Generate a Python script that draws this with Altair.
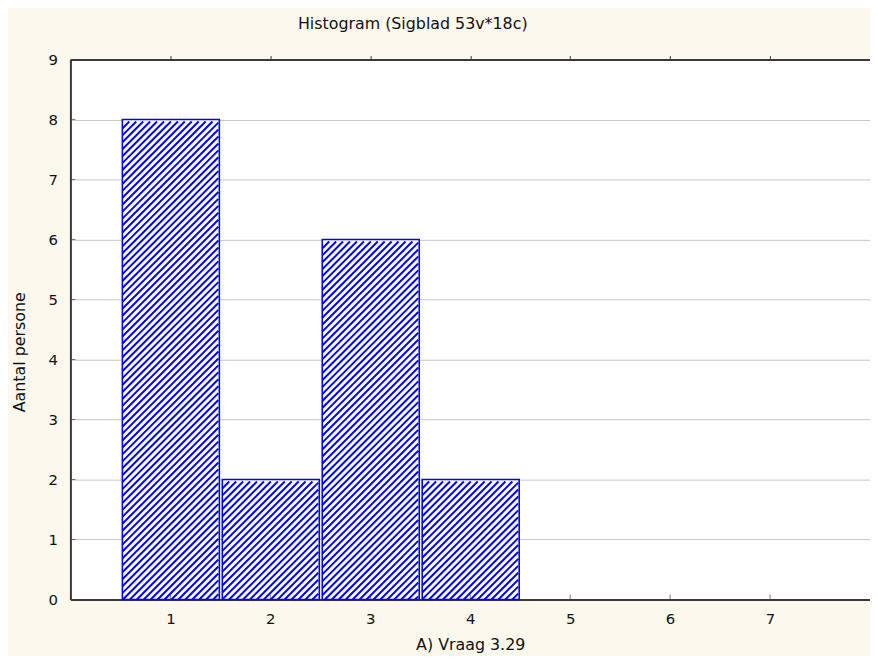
import altair as alt
import pandas as pd

# ---- data ----
values = [1, 2, 3, 4]
counts = [8, 2, 6, 2]
x_ticks = [1, 2, 3, 4, 5, 6, 7]
y_ticks = [0, 1, 2, 3, 4, 5, 6, 7, 8, 9]

title_text = "Histogram (Sigblad 53v*18c)"
x_title = "A) Vraag 3.29"
y_title = "Aantal persone"

# ---- layout / style ----
W, H = 807, 545
XMAX, YMAX = 8, 9
SX = W / XMAX
SY = H / YMAX
D = 7.0        # hatch spacing (px, horizontal)
INSET = 2.0    # hatch inset from bar edge (px)
BLUE = "#0000ff"
DARK = "#3a3a3a"
FONT = "DejaVu Sans"

bars_df = pd.DataFrame({"value": values, "count": counts})
ticks_x_df = pd.DataFrame({"t": x_ticks})
ticks_y_df = pd.DataFrame({"t": y_ticks})

xscale = alt.Scale(domain=[0, XMAX], nice=False, zero=False)
yscale = alt.Scale(domain=[0, YMAX], nice=False)

bars = alt.Chart(bars_df).transform_calculate(
    start="datum.value - 0.5",
    end="datum.value + 0.5",
).mark_bar(fill="white", stroke=BLUE, strokeWidth=1.6, binSpacing=3).encode(
    x=alt.X(
        "start:Q", bin="binned", scale=xscale,
        axis=alt.Axis(
            orient="bottom", values=x_ticks, format="d", title=x_title,
            tickSize=0, labelPadding=12, labelFontSize=15, labelFont=FONT,
            labelColor="#111", domainColor=DARK, domainWidth=2, grid=False,
            titleFont=FONT, titleFontSize=16, titleFontWeight="normal",
            titleColor="#111", titleY=45, titleBaseline="middle",
        ),
    ),
    x2="end:Q",
    y=alt.Y(
        "count:Q", scale=yscale,
        axis=alt.Axis(
            orient="left", values=y_ticks, format="d", title=y_title,
            tickSize=0, labelPadding=13, labelFontSize=15, labelFont=FONT,
            labelColor="#111", domainColor=DARK, domainWidth=2,
            grid=True, gridColor="#c4c4c4", gridWidth=1,
            titleFont=FONT, titleFontSize=16, titleFontWeight="normal",
            titleColor="#111", titleX=-51, titleY=295, titleAngle=-90,
            titleAlign="center", titleBaseline="middle",
        ),
    ),
)

hatch = alt.Chart(bars_df).transform_calculate(
    xa=f"datum.value - 0.5 + {INSET / SX}",
    xb=f"datum.value + 0.5 - {INSET / SX}",
).transform_calculate(
    wp=f"(datum.xb - datum.xa) * {SX}",
    hp=f"datum.count * {SY} - {INSET}",
).transform_calculate(
    k=f"sequence(1, ceil((datum.wp + datum.hp) / {D}))"
).transform_flatten(["k"]).transform_calculate(
    c=f"datum.k * {D} - datum.hp"
).transform_filter("datum.c < datum.wp").transform_calculate(
    psx="max(0, datum.c)",
    pex="min(datum.wp, datum.hp + datum.c)",
).transform_calculate(
    hx1=f"datum.xa + datum.psx / {SX}",
    hy1=f"(datum.psx - datum.c) / {SY}",
    hx2=f"datum.xa + datum.pex / {SX}",
    hy2=f"(datum.pex - datum.c) / {SY}",
).mark_rule(color=BLUE, strokeWidth=2).encode(
    x=alt.X("hx1:Q", scale=xscale, axis=None),
    x2="hx2:Q",
    y=alt.Y("hy1:Q", scale=yscale),
    y2="hy2:Q",
)

# inward ticks on the bottom axis, plus a top frame axis with outward ticks
xt = alt.Chart(ticks_x_df).mark_tick(
    orient="vertical", size=5, thickness=1, yOffset=-2.5, color=DARK
).encode(
    x=alt.X(
        "t:Q", scale=xscale,
        axis=alt.Axis(
            orient="top", values=x_ticks, labels=False, title=None,
            tickSize=4, tickColor=DARK, domainColor=DARK, domainWidth=2,
            grid=False,
        ),
    ),
    y=alt.Y(datum=0),
)

# inward ticks on the left axis
yt = alt.Chart(ticks_y_df).mark_tick(
    orient="horizontal", size=5, thickness=1, xOffset=2.5, color=DARK
).encode(
    y=alt.Y("t:Q", scale=yscale),
    x=alt.X(datum=0, axis=None),
)

chart = alt.layer(bars, hatch, xt, yt).resolve_axis(x="independent").properties(
    width=W,
    height=H,
    padding={"left": 63, "top": 49, "right": 0, "bottom": 54},
    autosize="none",
    title=alt.TitleParams(
        title_text, font=FONT, fontSize=16, fontWeight="normal", color="#111",
        anchor="middle", offset=21, dx=-58,
    ),
).configure(background="#fdf8ee").configure_view(stroke=None, fill="white")

chart.save("out.html", embed_options={"renderer": "svg", "actions": False})
